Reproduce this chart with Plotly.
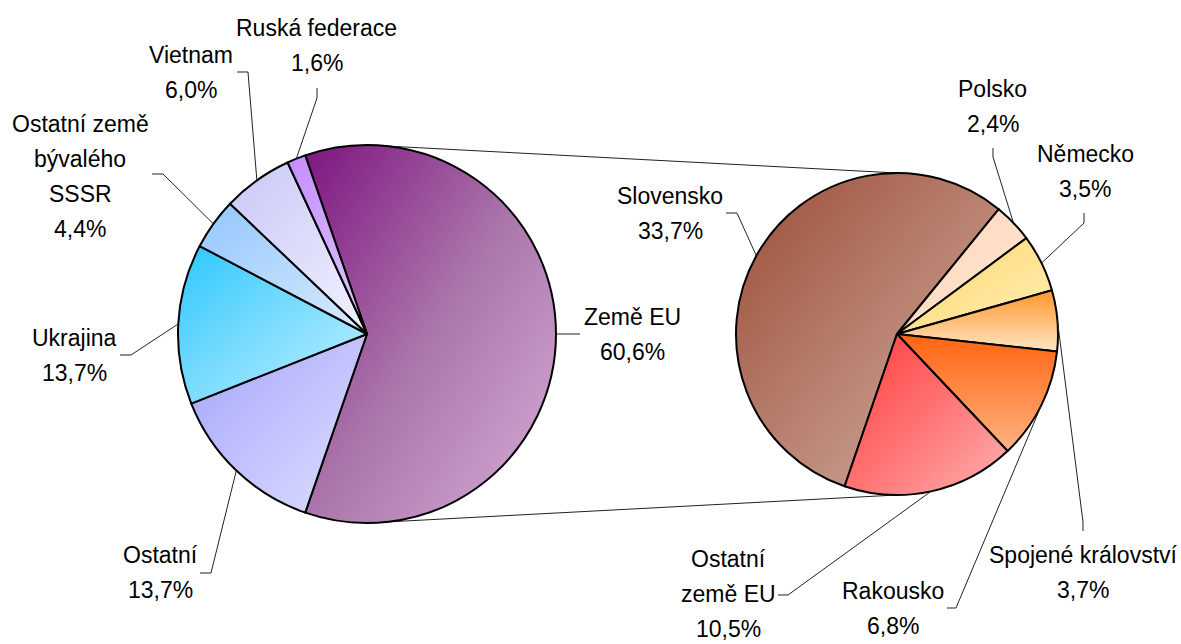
import json
import math
import plotly.graph_objects as go

W, H = 1181, 644

# ---- data -------------------------------------------------------------
main_labels = ["Země EU", "Ostatní", "Ukrajina", "Ostatní země<br>bývalého<br>SSSR", "Vietnam", "Ruská federace"]
main_values = [60.6, 13.7, 13.7, 4.4, 6.0, 1.6]
main_colors = ["#ad74ad", "#c2c2fc", "#7fd9fd", "#b3d7fd", "#dcdcfd", "#d5aaff"]

eu_labels = ["Slovensko", "Polsko", "Německo", "Spojené království", "Rakousko", "Ostatní<br>země EU"]
eu_values = [33.7, 2.4, 3.5, 3.7, 6.8, 10.5]
eu_colors = ["#b98676", "#ffdcc2", "#ffe285", "#ffc486", "#ff8742", "#ff7070"]

# gradient fills (start, middle, end colour, direction d=diagonal v=vertical)
main_grad = [("#7e1580", "#ab76ab", "#d8aed8", "d"), ("#a2a2fb", "#c2c2fd", "#dedeff", "d"),
             ("#2dc7fd", "#7cdcfe", "#c2f1ff", "d"), ("#92c6fd", "#b6d9fe", "#dcecff", "d"),
             ("#c8c8f8", "#dcdcfb", "#f2f2ff", "d"), ("#c48cff", "#d2aaff", "#e2ccff", "d")]
eu_grad = [("#9b4d37", "#b8806f", "#d3b2a4", "d"), ("#ffd6b8", "#ffdec6", "#ffe6d4", "d"),
           ("#ffd66a", "#ffe290", "#fff0b8", "d"), ("#ff9628", "#ffbe78", "#ffe6c4", "v"),
           ("#ff6410", "#ff8a48", "#ffb384", "v"), ("#ff3a3a", "#ff7272", "#ffb2b2", "d")]

# ---- layout geometry (pixels) -----------------------------------------
LEFT = dict(cx=367, cy=334, r=189)
RIGHT = dict(cx=897, cy=334, r=161)
LEFT["rot"] = 90 - main_values[0] / sum(main_values) * 180
RIGHT["rot"] = 199.0

FSIZE = 23
LINE_GAP = 35
FONT = dict(family="Liberation Sans, Arial, sans-serif", size=FSIZE, color="#000000")

# label centre x, first baseline (px) and leader stub: [stub start, knee]
main_label_pos = [
    (632, 325, [(580, 334), (570, 334)]),
    (160, 563, [(200, 573), (211, 573)]),
    (74, 346, [(120, 355), (131, 355)]),
    (80, 132, [(152, 174), (163, 174)]),
    (191, 63, [(237, 72), (248, 72)]),
    (317, 36, [(317, 88), (317, 98)]),
]
eu_label_pos = [
    (670, 204, [(726, 213), (737, 213)]),
    (993, 97, [(993, 148), (993, 157)]),
    (1085, 162, [(1084, 213), (1084, 223)]),
    (1083, 563, [(1083, 531), (1083, 522)]),
    (893, 599, [(947, 608), (956, 608)]),
    (728, 567, [(778, 595), (788, 595)]),
]


def px(x):
    return x / W


def py(y):
    return 1 - y / H


def domain(g):
    return dict(x=[px(g["cx"] - g["r"]), px(g["cx"] + g["r"])],
                y=[py(g["cy"] + g["r"]), py(g["cy"] - g["r"])])


def mid_points(values, g):
    tot = sum(values)
    pts = []
    acc = 0.0
    for v in values:
        a = math.radians(g["rot"] + (acc + v / 2) / tot * 360)
        pts.append((g["cx"] + g["r"] * math.sin(a), g["cy"] - g["r"] * math.cos(a)))
        acc += v
    return pts


def fmt(v):
    return f"{v:.1f}".replace(".", ",") + "%"


fig = go.Figure()
for labels, values, colors, g in [(main_labels, main_values, main_colors, LEFT),
                                  (eu_labels, eu_values, eu_colors, RIGHT)]:
    fig.add_trace(go.Pie(
        labels=[l.replace("<br>", " ") for l in labels], values=values, sort=False,
        direction="clockwise", rotation=g["rot"], domain=domain(g), textinfo="none",
        hoverinfo="label+value",
        marker=dict(colors=colors, line=dict(color="#000000", width=2)),
        showlegend=False,
    ))

shapes = []
annotations = []
for labels, values, pos, g in [(main_labels, main_values, main_label_pos, LEFT),
                               (eu_labels, eu_values, eu_label_pos, RIGHT)]:
    anchors = mid_points(values, g)
    for lab, val, (lx, b0, stub), anc in zip(labels, values, pos, anchors):
        lines = lab.split("<br>") + [fmt(val)]
        for i, line in enumerate(lines):
            base = b0 + i * LINE_GAP
            annotations.append(dict(
                x=px(lx), y=py(base - 0.35 * FSIZE), xref="paper", yref="paper",
                showarrow=False, text=line, xanchor="center", yanchor="middle",
                align="center", font=FONT, borderpad=0,
            ))
        pts = stub + [anc]
        path = "M " + " L ".join(f"{px(x):.5f},{py(y):.5f}" for x, y in pts)
        shapes.append(dict(type="path", path=path, xref="paper", yref="paper",
                           line=dict(color="#222222", width=1), layer="above"))

# connector lines between the two pies
for sgn in (-1, 1):
    shapes.append(dict(type="line", xref="paper", yref="paper",
                       x0=px(LEFT["cx"]), y0=py(LEFT["cy"] + sgn * LEFT["r"]),
                       x1=px(RIGHT["cx"]), y1=py(RIGHT["cy"] + sgn * RIGHT["r"]),
                       line=dict(color="#222222", width=1), layer="below"))

fig.update_layout(
    width=W, height=H, margin=dict(l=0, r=0, t=0, b=0),
    paper_bgcolor="white", plot_bgcolor="white",
    shapes=shapes, annotations=annotations, font=FONT,
)

GRAD_JS = """
document.body.style.margin = '0';
var gd = document.getElementById('{plot_id}');
var grads = __GRADS__;
var NS = 'http://www.w3.org/2000/svg';
var svg = gd.querySelector('svg.main-svg');
var defs = svg.querySelector('defs');
if (!defs) { defs = document.createElementNS(NS, 'defs'); svg.insertBefore(defs, svg.firstChild); }
var traces = gd.querySelectorAll('.pielayer .trace');
for (var ti = 0; ti < traces.length; ti++) {
  var slices = traces[ti].querySelectorAll('g.slice');
  for (var si = 0; si < slices.length; si++) {
    var g = grads[ti][si];
    if (!g) continue;
    var id = 'piegrad_' + ti + '_' + si;
    var lg = document.createElementNS(NS, 'linearGradient');
    lg.setAttribute('id', id);
    lg.setAttribute('x1', '0'); lg.setAttribute('y1', '0');
    lg.setAttribute('x2', g[3] === 'v' ? '0' : '1'); lg.setAttribute('y2', '1');
    var offs = ['0', '0.5', '1'];
    for (var k = 0; k < 3; k++) {
      var st = document.createElementNS(NS, 'stop');
      st.setAttribute('offset', offs[k]); st.setAttribute('stop-color', g[k]);
      lg.appendChild(st);
    }
    defs.appendChild(lg);
    var p = slices[si].querySelector('path.surface');
    if (p) { p.style.fill = 'url(#' + id + ')'; }
  }
}
""".replace("__GRADS__", json.dumps([main_grad, eu_grad]))

fig.write_html("out.html", config={"displayModeBar": False}, post_script=GRAD_JS)
